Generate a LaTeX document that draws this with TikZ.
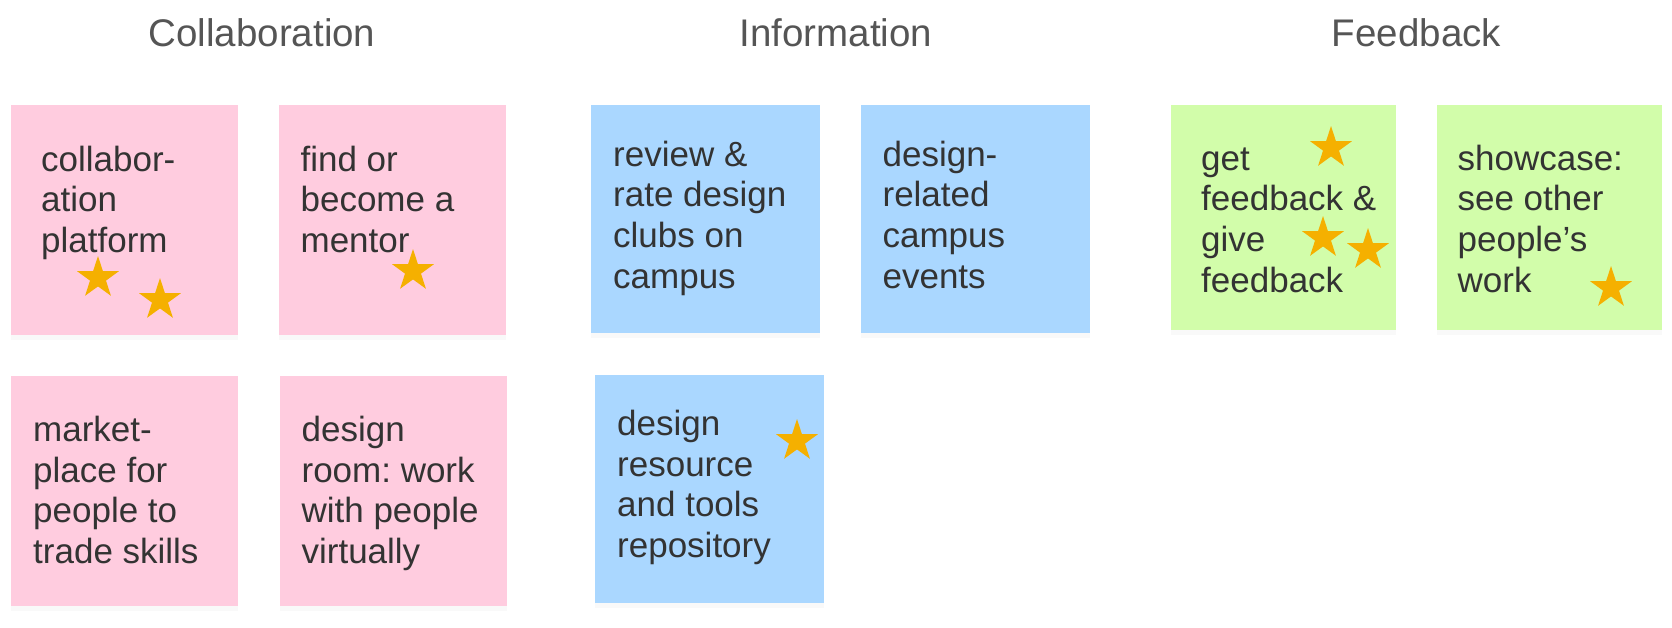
\documentclass[tikz,border=0pt]{standalone}
\usepackage{fontspec}
\setmainfont{Liberation Sans}
\frenchspacing
\usetikzlibrary{positioning, shapes.geometric, shadows}

\definecolor{notepink}{HTML}{FFCCDF}
\definecolor{noteblue}{HTML}{AAD7FF}
\definecolor{notegreen}{HTML}{D2FDAA}
\definecolor{stargold}{HTML}{F5B000}
\definecolor{inkdark}{HTML}{333333}
\definecolor{inkgrey}{HTML}{555555}

\begin{document}
\begin{tikzpicture}[x=1pt, y=-1pt,
  node distance=40pt,
  note/.style={rectangle, inner sep=0pt, anchor=north west,
               drop shadow={shadow xshift=0pt, shadow yshift=-5pt, opacity=0.05}},
  pinknote/.style={note, fill=notepink, minimum width=227pt, minimum height=230pt},
  bluenote/.style={note, fill=noteblue, minimum width=229pt, minimum height=228pt},
  greennote/.style={note, fill=notegreen, minimum width=225pt, minimum height=225pt},
  % base of a multi-line node sits on its last line
  notetext/.style={anchor=base west, inner sep=0pt, align=left, text=inkdark,
                   font=\fontsize{35}{40.7}\selectfont},
  header/.style={anchor=base, inner sep=0pt, text=inkgrey, font=\fontsize{38.5}{44}\selectfont},
  starmark/.style={star, star points=5, star point ratio=2.618, minimum size=44pt,
                   inner sep=0pt, fill=stargold, draw=none}
]
  \useasboundingbox (0,0) rectangle (1672,627);

  % group headers
  \node[header] (hcollab) at (262,46.5) {Collaboration};
  \node[header] (hinfo) at (836,46.5) {Information};
  \node[header] (hfeed) at (1416.5,46.5) {Feedback};

  % collaboration notes
  \node[pinknote] (c1) at (11,105) {};
  \node[pinknote, right=of c1] (c2) {};
  \node[pinknote, below=of c1] (c3) {};
  \node[pinknote, right=41pt of c3] (c4) {};

  % information notes
  \node[bluenote] (i1) at (591,105) {};
  \node[bluenote, right=of i1] (i2) {};
  \node[bluenote, below=41pt of i1, xshift=4pt] (i3) {};

  % feedback notes
  \node[greennote] (f1) at (1171,105) {};
  \node[greennote, right=of f1] (f2) {};

  % note texts
  \node[notetext] (tc1) at ([shift={(30,{66+2*40.7})}]c1.north west) {collabor-\\ation\\platform};
  \node[notetext] (tc2) at ([shift={(22,{66+2*40.7})}]c2.north west) {find or\\become a\\mentor};
  \node[notetext] (tc3) at ([shift={(22,{66+3*40.7})}]c3.north west) {market-\\place for\\people to\\trade skills};
  \node[notetext] (tc4) at ([shift={(22,{66+3*40.7})}]c4.north west) {design\\room: work\\with people\\virtually};
  \node[notetext] (ti1) at ([shift={(22,{61+3*40.7})}]i1.north west) {review \&\\rate design\\clubs on\\campus};
  \node[notetext] (ti2) at ([shift={(22,{61+3*40.7})}]i2.north west) {design-\\related\\campus\\events};
  \node[notetext] (ti3) at ([shift={(22,{61+3*40.7})}]i3.north west) {design\\resource\\and tools\\repository};
  \node[notetext] (tf1) at ([shift={(30,{65+3*40.7})}]f1.north west) {get\\feedback \&\\give\\feedback};
  \node[notetext] (tf2) at ([shift={(21,{65+3*40.7})}]f2.north west) {showcase:\\see other\\people’s\\work};

  % votes
  \node[starmark] (s1) at (98,278) {};
  \node[starmark] (s2) at (160,300) {};
  \node[starmark] (s3) at (413,271) {};
  \node[starmark] (s4) at (797,441) {};
  \node[starmark] (s5) at (1331,148) {};
  \node[starmark] (s6) at (1323,238) {};
  \node[starmark] (s7) at (1368,250) {};
  \node[starmark] (s8) at (1611,288) {};
\end{tikzpicture}
\end{document}
